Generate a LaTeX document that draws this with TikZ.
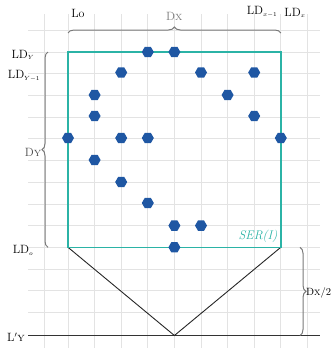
\documentclass[tikz,border=0pt]{standalone}
\usetikzlibrary{shapes.geometric,decorations.pathreplacing}
\definecolor{teal1}{HTML}{2BB3A6}
\definecolor{dotblue}{HTML}{1F57A3}
\definecolor{gridgray}{HTML}{E3E3E3}
\definecolor{bracegray}{HTML}{7A7A7A}
\tikzset{
  dot/.style={regular polygon,regular polygon sides=6,fill=dotblue,inner sep=0pt,minimum size=12pt},
  lbl/.style={font=\fontsize{12}{13}\selectfont,inner sep=1pt},
  gbrace/.style={draw=bracegray,line width=1pt,decorate,decoration={brace,amplitude=6pt}},
}
\begin{document}
\begin{tikzpicture}[x=1pt,y=-1pt]
\useasboundingbox (0,0) rectangle (332,348);
% grid
\foreach \gx in {44,68,94.6,121.2,147.8,174.4,201,227.6,254.2,280.8,307.4}
  \draw[gridgray,line width=0.7pt] (\gx,14) -- (\gx,348);
\foreach \gy in {30.3,52,73.7,95.4,117,138.8,160.5,182.2,203.9,225.6,247.3,269,290.7,312.4}
  \draw[gridgray,line width=0.7pt] (28,\gy) -- (320,\gy);
% corners
\coordinate (tl) at (68,52);
\coordinate (tr) at (280.8,52);
\coordinate (br) at (280.8,247.3);
\coordinate (bl) at (68,247.3);
\coordinate (apex) at (174.4,335.5);
\coordinate (lyl) at (28,335.5);
\coordinate (lyr) at (320,335.5);
% base line and V
\draw[black!80,line width=0.9pt] (lyl) -- (lyr);
\draw[black!85,line width=0.9pt] (bl) -- (apex) -- (br);
% rectangle
\draw[teal1,line width=1.6pt] (tl) -- (tr) -- (br) -- (bl) -- cycle;
% braces
\draw[gbrace] (68,33) -- (280.8,33);
\draw[gbrace] (48,247.3) -- (48,52);
\draw[gbrace] (300,247.3) -- (300,335.5);
% dots
\node[dot] (d1) at (147.8,52) {};
\node[dot] (d2) at (174.4,52) {};
\node[dot] (d3) at (121.2,72.5) {};
\node[dot] (d4) at (201,72.5) {};
\node[dot] (d5) at (254.2,72.5) {};
\node[dot] (d6) at (94.6,95) {};
\node[dot] (d7) at (227.6,95) {};
\node[dot] (d8) at (94.6,116) {};
\node[dot] (d9) at (254.2,116) {};
\node[dot] (d10) at (68,138) {};
\node[dot] (d11) at (121.2,138) {};
\node[dot] (d12) at (147.8,138) {};
\node[dot] (d13) at (280.8,138) {};
\node[dot] (d14) at (94.6,160) {};
\node[dot] (d15) at (121.2,182) {};
\node[dot] (d16) at (147.8,203) {};
\node[dot] (d17) at (174.4,225.6) {};
\node[dot] (d18) at (201,225.6) {};
\node[dot] (d19) at (174.4,247.3) {};
% labels
\node[lbl] (lo) at (78,13) {Lo};
\node[lbl,text=bracegray] (dx) at (174.4,16) {D\textsc{x}};
\node[lbl] (ldx1) at (262,12) {LD$_{\scriptscriptstyle x-1}$};
\node[lbl] (ldx) at (295,13) {LD$_{\scriptscriptstyle x}$};
\node[lbl] (ldy) at (23,55) {LD$_{\scriptscriptstyle Y}$};
\node[lbl] (ldy1) at (24,76) {LD$_{\scriptscriptstyle Y-1}$};
\node[lbl,text=black!70] (dy) at (33,152) {D\textsc{y}};
\node[lbl] (ldo) at (23,250) {LD$_{\scriptscriptstyle o}$};
\node[lbl] (lpy) at (16,337) {L$'$\textsc{y}};
\node[lbl,anchor=west,inner sep=0pt,font=\fontsize{10.5}{11}\selectfont] (dx2) at (306,293) {D\textsc{x}/2};
\node[lbl,text=teal1,font=\fontsize{12.5}{13}\selectfont\itshape] (ser) at (258,236) {SER(I)};
\end{tikzpicture}
\end{document}
